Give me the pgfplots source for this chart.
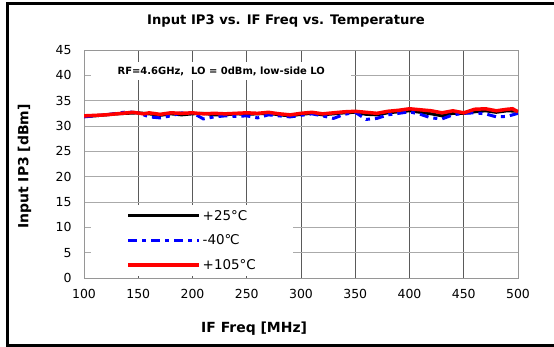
\documentclass[border=0pt]{standalone}
\usepackage{fontspec}
\setmainfont{DejaVu Sans}
\usepackage{pgfplots}
\pgfplotsset{compat=1.18}

\definecolor{gridh}{RGB}{170,170,170}
\definecolor{gridv}{RGB}{90,90,90}
\definecolor{axgray}{RGB}{150,150,150}

\begin{document}
\begin{tikzpicture}
\useasboundingbox (0,0) rectangle (554bp,347bp);
\draw[line width=3bp] (7.5bp,1.5bp) rectangle (560bp,343.5bp);
\begin{axis}[
  at={(84bp,69bp)}, anchor=south west,
  scale only axis, width=434bp, height=228bp,
  xmin=100, xmax=500, ymin=0, ymax=45,
  xtick={100,150,...,500}, ytick={0,5,...,45},
  major tick length=0pt,
  axis line style={axgray},
  grid=major,
  x grid style={gridv, line width=0.8bp},
  y grid style={gridh, line width=0.8bp},
  /pgf/number format/assume math mode=true,
  tick label style={font=\fontsize{12.5}{14}\selectfont},
  xticklabel style={yshift=-8bp},
  yticklabel style={xshift=-9bp},
  title={Input IP3 vs. IF Freq vs. Temperature},
  title style={font=\fontsize{13.2}{15}\selectfont\bfseries, at={(axis description cs:0.4654,1.1009)}, anchor=center},
  xlabel={IF Freq [MHz]},
  xlabel style={font=\fontsize{14}{16}\selectfont\bfseries, at={(axis description cs:0.392,-0.2237)}, anchor=center},
  ylabel={Input IP3 [dBm]},
  ylabel style={font=\fontsize{14}{16}\selectfont\bfseries, at={(axis description cs:-0.137,0.489)}, anchor=center},
  legend style={at={(axis cs:106.5,14.4)}, anchor=north west, fill=white, draw=none,
    font=\fontsize{13.5}{15}\selectfont, inner xsep=35bp, inner ysep=3bp, row sep=9bp},
  legend cell align=left,
  legend image code/.code={\draw[#1] (0bp,0bp) -- (71bp,0bp);},
]
\node[fill=white, minimum width=260bp, minimum height=18bp, inner sep=0pt,
  font=\fontsize{10}{12}\selectfont\bfseries] at (axis cs:226.5,40.85) {RF=4.6GHz,\ \ LO = 0dBm,\ low-side LO};

\addplot[black, line width=3bp] coordinates {
(100,31.9) (110,32.0) (120,32.2) (130,32.4) (140,32.5) (150,32.6) (160,32.4) (170,32.1)
(180,32.4) (190,32.2) (200,32.4) (210,32.5) (220,32.2) (230,32.2) (240,32.4) (250,32.3)
(260,32.4) (270,32.5) (280,32.2) (290,32.0) (300,32.3) (310,32.5) (320,32.2) (330,32.4)
(340,32.6) (350,32.7) (360,32.3) (370,32.2) (380,32.6) (390,32.8) (400,33.0) (410,32.7)
(420,32.4) (430,32.0) (440,32.5) (450,32.5) (460,32.8) (470,33.0) (480,32.7) (490,33.0)
(500,32.9)
};
\addlegendentry{+25°C}

\addplot[blue, line width=3bp, dash pattern=on 9bp off 5bp on 4bp off 5bp] coordinates {
(100,31.8) (110,32.0) (120,32.2) (130,32.5) (140,32.8) (150,32.6) (160,31.8) (170,31.6)
(180,32.0) (190,32.6) (200,32.6) (210,31.4) (220,31.8) (230,32.0) (240,31.9) (250,32.0)
(260,31.6) (270,32.2) (280,32.0) (290,31.8) (300,32.1) (310,32.4) (320,32.0) (330,31.5)
(340,32.3) (350,32.7) (360,31.3) (370,31.5) (380,32.2) (390,32.5) (400,32.8) (410,32.3)
(420,31.6) (430,31.4) (440,32.2) (450,32.5) (460,32.6) (470,32.4) (480,31.8) (490,31.9)
(500,32.5)
};
\addlegendentry{-40℃}

\addplot[red, line width=3.5bp] coordinates {
(100,32.0) (110,32.1) (120,32.2) (130,32.4) (140,32.6) (145,32.7) (155,32.4) (160,32.6)
(170,32.3) (180,32.6) (190,32.5) (200,32.6) (210,32.4) (220,32.5) (230,32.4) (240,32.5)
(250,32.6) (260,32.5) (270,32.7) (280,32.4) (290,32.2) (300,32.5) (310,32.7) (320,32.4)
(330,32.6) (340,32.8) (350,32.9) (360,32.7) (370,32.5) (380,32.9) (390,33.1) (400,33.4)
(410,33.2) (420,33.0) (430,32.6) (440,33.0) (450,32.6) (460,33.3) (470,33.4) (480,33.0)
(490,33.3) (495,33.4) (500,32.8)
};
\addlegendentry{+105°C}
\end{axis}
\end{tikzpicture}
\end{document}
